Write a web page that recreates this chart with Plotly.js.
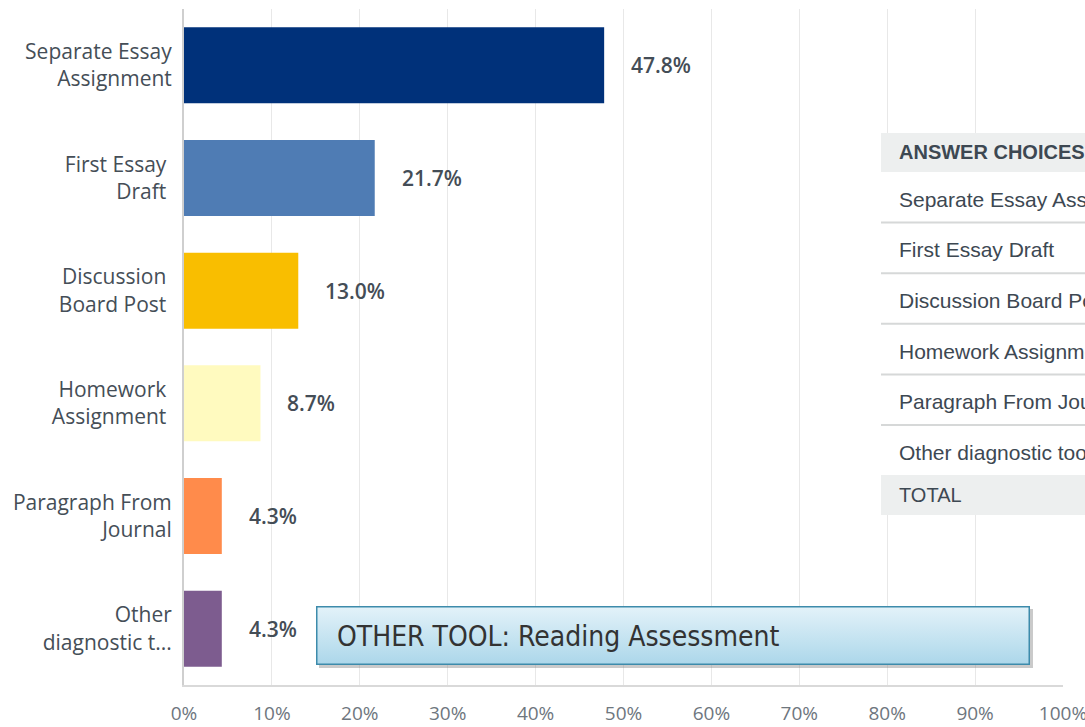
<!DOCTYPE html>
<html>
<head>
<meta charset="utf-8">
<script src="https://cdn.plot.ly/plotly-3.0.1.min.js"></script>
<style>
html,body{margin:0;padding:0;background:#fff;}
#chart{width:1085px;height:727px;}
</style>
</head>
<body>
<div id="chart"></div>
<script>
// ---- data ----
const categories = ['Separate Essay Assignment', 'First Essay Draft', 'Discussion Board Post', 'Homework Assignment', 'Paragraph From Journal', 'Other diagnostic tool'];
const axisLabels = ['Separate Essay<br>Assignment', 'First Essay <br>Draft ', 'Discussion <br>Board Post ', 'Homework <br>Assignment ', 'Paragraph From<br>Journal', 'Other<br>diagnostic t...'];
const values = [47.8, 21.7, 13.0, 8.7, 4.3, 4.3];
const xTickValues = [0, 10, 20, 30, 40, 50, 60, 70, 80, 90, 100];
const xTickLabels = ['0%', '10%', '20%', '30%', '40%', '50%', '60%', '70%', '80%', '90%', '100%'];
const tableHeader = 'ANSWER CHOICES';
const tableTotal = 'TOTAL';
const calloutText = 'OTHER TOOL: Reading Assessment';

// ---- style ----
const barColors = ['#00317a', '#4f7cb4', '#f9be00', '#fffabf', '#ff8b4b', '#7d5c8f'];
const L = 184, R = 1063, T = 9, B = 685, W = 1085, H = 727;
const px = x => (x - L) / (R - L);
const py = y => (B - y) / (B - T);
const tableFont = {family: 'Liberation Sans, Arial, sans-serif', size: 21, color: '#3d4852'};

const shapes = [];
const annotations = [];

// value labels
values.forEach((v, i) => {
  annotations.push({
    x: v, y: axisLabels[i], xref: 'x', yref: 'y',
    text: v.toFixed(1) + '%', showarrow: false,
    xanchor: 'left', xshift: 25,
    font: {family: 'Open Sans, sans-serif', size: 21, color: '#444d56', weight: 600}
  });
});

// table
const tLeft = 881, tRight = 1100;
shapes.push({type: 'rect', xref: 'paper', yref: 'paper', x0: px(tLeft), x1: px(tRight), y0: py(133), y1: py(515),
  fillcolor: '#ffffff', line: {width: 0}, layer: 'above'});
shapes.push({type: 'rect', xref: 'paper', yref: 'paper', x0: px(tLeft), x1: px(tRight), y0: py(133), y1: py(172),
  fillcolor: '#edefef', line: {width: 0}, layer: 'above'});
shapes.push({type: 'rect', xref: 'paper', yref: 'paper', x0: px(tLeft), x1: px(tRight), y0: py(475), y1: py(515),
  fillcolor: '#edefef', line: {width: 0}, layer: 'above'});
const rowTop = 172, rowH = 50.6;
annotations.push({x: px(897), y: py(152.5), xref: 'paper', yref: 'paper', text: '<b>' + tableHeader + '</b>',
  showarrow: false, xanchor: 'left', yanchor: 'middle', font: Object.assign({}, tableFont, {size: 20})});
categories.forEach((c, i) => {
  const top = rowTop + i * rowH;
  if (i > 0) {
    shapes.push({type: 'line', xref: 'paper', yref: 'paper', x0: px(tLeft), x1: px(tRight), y0: py(top), y1: py(top),
      line: {color: '#d6d8d8', width: 2}, layer: 'above'});
  }
  annotations.push({x: px(897), y: py(top + rowH / 2 + 2), xref: 'paper', yref: 'paper', text: c,
    showarrow: false, xanchor: 'left', yanchor: 'middle', font: tableFont});
});
annotations.push({x: px(897), y: py(495), xref: 'paper', yref: 'paper', text: tableTotal,
  showarrow: false, xanchor: 'left', yanchor: 'middle', font: Object.assign({}, tableFont, {size: 20})});

// callout box (gradient via svg image)
const cx0 = 316, cx1 = 1029, cy0 = 606, cy1 = 664;
const bw = cx1 - cx0 + 4, bh = cy1 - cy0 + 4;
const svg = `<svg xmlns="http://www.w3.org/2000/svg" width="${bw}" height="${bh}" viewBox="0 0 ${bw} ${bh}" preserveAspectRatio="none">
<defs><linearGradient id="g" x1="0" y1="0" x2="0" y2="1"><stop offset="0" stop-color="#e3f2f9"/><stop offset="1" stop-color="#acd7ea"/></linearGradient></defs>
<rect x="3" y="3" width="${bw-3}" height="${bh-3}" fill="#8a8a8a" opacity="0.45"/>
<rect x="0.75" y="0.75" width="${bw-4.5}" height="${bh-4.5}" fill="url(#g)" stroke="#3d8bab" stroke-width="1.5"/>
</svg>`;
const images = [{
  source: 'data:image/svg+xml;charset=utf-8,' + encodeURIComponent(svg),
  xref: 'paper', yref: 'paper', x: px(cx0), y: py(cy0), sizex: bw / (R - L), sizey: bh / (B - T),
  xanchor: 'left', yanchor: 'top', sizing: 'stretch', layer: 'above'
}];
annotations.push({x: px(335), y: py(636), xref: 'paper', yref: 'paper', text: calloutText, showarrow: false,
  xanchor: 'left', yanchor: 'middle', font: {family: 'Liberation Sans Narrow, DejaVu Sans Condensed, sans-serif', size: 28, color: '#333333'}});

const trace = {
  type: 'bar', orientation: 'h',
  x: values, y: axisLabels,
  marker: {color: barColors, line: {width: 0}},
  hoverinfo: 'none', cliponaxis: false
};

const layout = {
  width: W, height: H,
  margin: {l: L, r: W - R, t: T, b: H - B},
  paper_bgcolor: '#ffffff', plot_bgcolor: '#ffffff',
  showlegend: false,
  bargap: 0.325,
  xaxis: {
    range: [0, 100], tickvals: xTickValues, ticktext: xTickLabels,
    showgrid: true, gridcolor: '#e8e8e8', gridwidth: 1,
    zeroline: false, showline: true, linecolor: '#d9d9d9', linewidth: 2,
    ticks: 'outside', ticklen: 10, tickcolor: 'rgba(0,0,0,0)',
    ticklabeloverflow: 'allow',
    tickfont: {family: 'Open Sans, sans-serif', size: 19, color: '#6e767e'},
    fixedrange: true
  },
  yaxis: {
    type: 'category', autorange: 'reversed',
    showgrid: false, zeroline: false, showline: true, linecolor: '#cfcfcf', linewidth: 2,
    ticks: 'outside', ticklen: 6, tickcolor: 'rgba(0,0,0,0)',
    tickfont: {family: 'Open Sans, sans-serif', size: 21, color: '#454e57'},
    fixedrange: true
  },
  shapes: shapes, annotations: annotations, images: images
};

Plotly.newPlot('chart', [trace], layout, {displayModeBar: false, staticPlot: true});
</script>
</body>
</html>
